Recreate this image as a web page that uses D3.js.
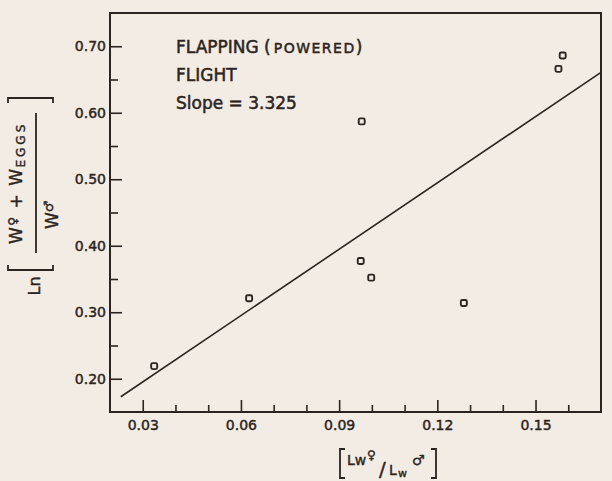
<!DOCTYPE html>
<html>
<head>
<meta charset="utf-8">
<script src="https://cdn.jsdelivr.net/npm/d3@7/dist/d3.min.js"></script>
<style>
  html, body { margin: 0; padding: 0; background: #f3ece4; }
  svg { display: block; }
  text { font-family: "DejaVu Sans", sans-serif; fill: #2b2421; }
</style>
</head>
<body>
<svg id="chart" width="612" height="481"></svg>
<script>
// Length ratio of female to male wing (x) and log mass ratio (y)
const lengthRatio = [0.0335, 0.0625, 0.0969, 0.0966, 0.0998, 0.1281, 0.1583, 0.1570];
const massRatioLn = [0.219, 0.321, 0.587, 0.377, 0.352, 0.314, 0.686, 0.666];

// Fitted line: ln-ratio = intercept + slope * length ratio
const slope = 3.325;
const intercept = 0.0955;
const fitRange = [0.0233, 0.17];

const xMajorTicks = [0.03, 0.06, 0.09, 0.12, 0.15];
const xMinorTicks = [0.04, 0.05, 0.07, 0.08, 0.10, 0.11, 0.13, 0.14, 0.16];
const yMajorTicks = [0.20, 0.30, 0.40, 0.50, 0.60, 0.70];
const yMinorTicks = [0.25, 0.35, 0.45, 0.55, 0.65];

const annotationLines = ["FLIGHT", "Slope = 3.325"];

const ink = "#2b2421";
const svg = d3.select("#chart");
svg.append("rect").attr("width", 612).attr("height", 481).attr("fill", "#f3ece4");

const x = d3.scaleLinear().domain([0.02, 0.17]).range([110, 601]);
const y = d3.scaleLinear().domain([0.15, 0.75]).range([412, 13]);

function styleAxis(g) {
  g.select(".domain").remove();
  g.selectAll("line").attr("stroke", ink).attr("stroke-width", 1.6);
  g.selectAll("text").attr("font-size", 14).attr("fill", ink)
    .attr("font-family", "DejaVu Sans, sans-serif").attr("stroke", ink).attr("stroke-width", 0.45);
}

// bottom axis: inward ticks
svg.append("g").attr("transform", "translate(0,412)")
  .call(d3.axisBottom(x).tickValues(xMajorTicks).tickSizeInner(-12).tickSizeOuter(0)
    .tickPadding(8).tickFormat(d3.format(".2f")))
  .call(styleAxis);
svg.append("g").attr("transform", "translate(0,412)")
  .call(d3.axisBottom(x).tickValues(xMinorTicks).tickSizeInner(-7).tickSizeOuter(0).tickFormat(""))
  .call(styleAxis);

// left axis: inward ticks
svg.append("g").attr("transform", "translate(110,0)")
  .call(d3.axisLeft(y).tickValues(yMajorTicks).tickSizeInner(-12).tickSizeOuter(0)
    .tickPadding(4).tickFormat(d3.format(".2f")))
  .call(styleAxis);
svg.append("g").attr("transform", "translate(110,0)")
  .call(d3.axisLeft(y).tickValues(yMinorTicks).tickSizeInner(-8).tickSizeOuter(0).tickFormat(""))
  .call(styleAxis);

// frame
svg.append("rect")
  .attr("x", x.range()[0]).attr("y", y.range()[1])
  .attr("width", x.range()[1] - x.range()[0]).attr("height", y.range()[0] - y.range()[1])
  .attr("fill", "none").attr("stroke", ink).attr("stroke-width", 2);

// regression line
const fit = fitRange.map(v => [v, intercept + slope * v]);
svg.append("path")
  .attr("d", d3.line().x(d => x(d[0])).y(d => y(d[1]))(fit))
  .attr("stroke", ink).attr("stroke-width", 1.6).attr("fill", "none");

// observations
svg.append("g").selectAll("rect")
  .data(lengthRatio.map((v, i) => [v, massRatioLn[i]]))
  .join("rect")
  .attr("x", d => x(d[0]) - 3).attr("y", d => y(d[1]) - 3)
  .attr("width", 6).attr("height", 6).attr("rx", 1.5)
  .attr("fill", "none").attr("stroke", ink).attr("stroke-width", 1.9);

// annotation
const note = svg.append("g").attr("stroke", ink).attr("stroke-width", 0.5);
const t1 = note.append("text").attr("x", 176).attr("y", 53).attr("font-size", 17);
t1.append("tspan").text("FLAPPING (");
t1.append("tspan").attr("font-size", 14).attr("dx", 3).attr("letter-spacing", 1.5).text("POWERED");
t1.append("tspan").text(")");
note.selectAll("text.line").data(annotationLines).join("text").attr("class", "line")
  .attr("x", 176).attr("y", (d, i) => 81 + i * 28).attr("font-size", 17).text(d => d);

// y-axis title: Ln [ (W♀ + W_EGGS) / W♂ ]
const ylab = svg.append("g").attr("stroke", ink).attr("stroke-width", 0.4);
ylab.append("text")
  .attr("transform", "translate(40,286) rotate(-90)")
  .attr("text-anchor", "middle").attr("font-size", 16).text("Ln");
const num = ylab.append("text")
  .attr("transform", "translate(22,244) rotate(-90)")
  .attr("text-anchor", "start").attr("font-size", 17).attr("letter-spacing", 1.5);
num.append("tspan").text("W");
num.append("tspan").attr("font-size", 12).attr("dy", -5).text("♀");
num.append("tspan").attr("dy", 5).text(" + W");
num.append("tspan").attr("font-size", 12).attr("dy", 3).attr("letter-spacing", 3).text("EGGS");
const den = ylab.append("text")
  .attr("transform", "translate(58,229) rotate(-90)")
  .attr("text-anchor", "start").attr("font-size", 17);
den.append("tspan").text("W");
den.append("tspan").attr("font-size", 13).attr("dy", -5).text("♂");

// fraction bar and brackets
svg.append("line").attr("x1", 36).attr("x2", 36).attr("y1", 113).attr("y2", 253)
  .attr("stroke", ink).attr("stroke-width", 1.8);
svg.append("path").attr("d", "M8,265 V270 H53 V265").attr("fill", "none")
  .attr("stroke", ink).attr("stroke-width", 1.8);
svg.append("path").attr("d", "M8,103 V98 H53 V103").attr("fill", "none")
  .attr("stroke", ink).attr("stroke-width", 1.8);

// x-axis title: [ Lw♀ / Lw♂ ]
const xlab = svg.append("g").attr("stroke", ink).attr("stroke-width", 0.4);
xlab.append("text").attr("x", 347).attr("y", 465).attr("font-size", 14).text("Lw");
xlab.append("text").attr("x", 367).attr("y", 459).attr("font-size", 12).text("♀");
xlab.append("text").attr("x", 379).attr("y", 476).attr("font-size", 20).text("/");
xlab.append("text").attr("x", 389).attr("y", 475).attr("font-size", 14).text("L");
xlab.append("text").attr("x", 398).attr("y", 477).attr("font-size", 11).text("w");
xlab.append("text").attr("x", 412).attr("y", 465).attr("font-size", 14).text("♂");
svg.append("path").attr("d", "M345,449 H340 V478 H345").attr("fill", "none")
  .attr("stroke", ink).attr("stroke-width", 1.8);
svg.append("path").attr("d", "M431,449 H436 V478 H431").attr("fill", "none")
  .attr("stroke", ink).attr("stroke-width", 1.8);
</script>
</body>
</html>
